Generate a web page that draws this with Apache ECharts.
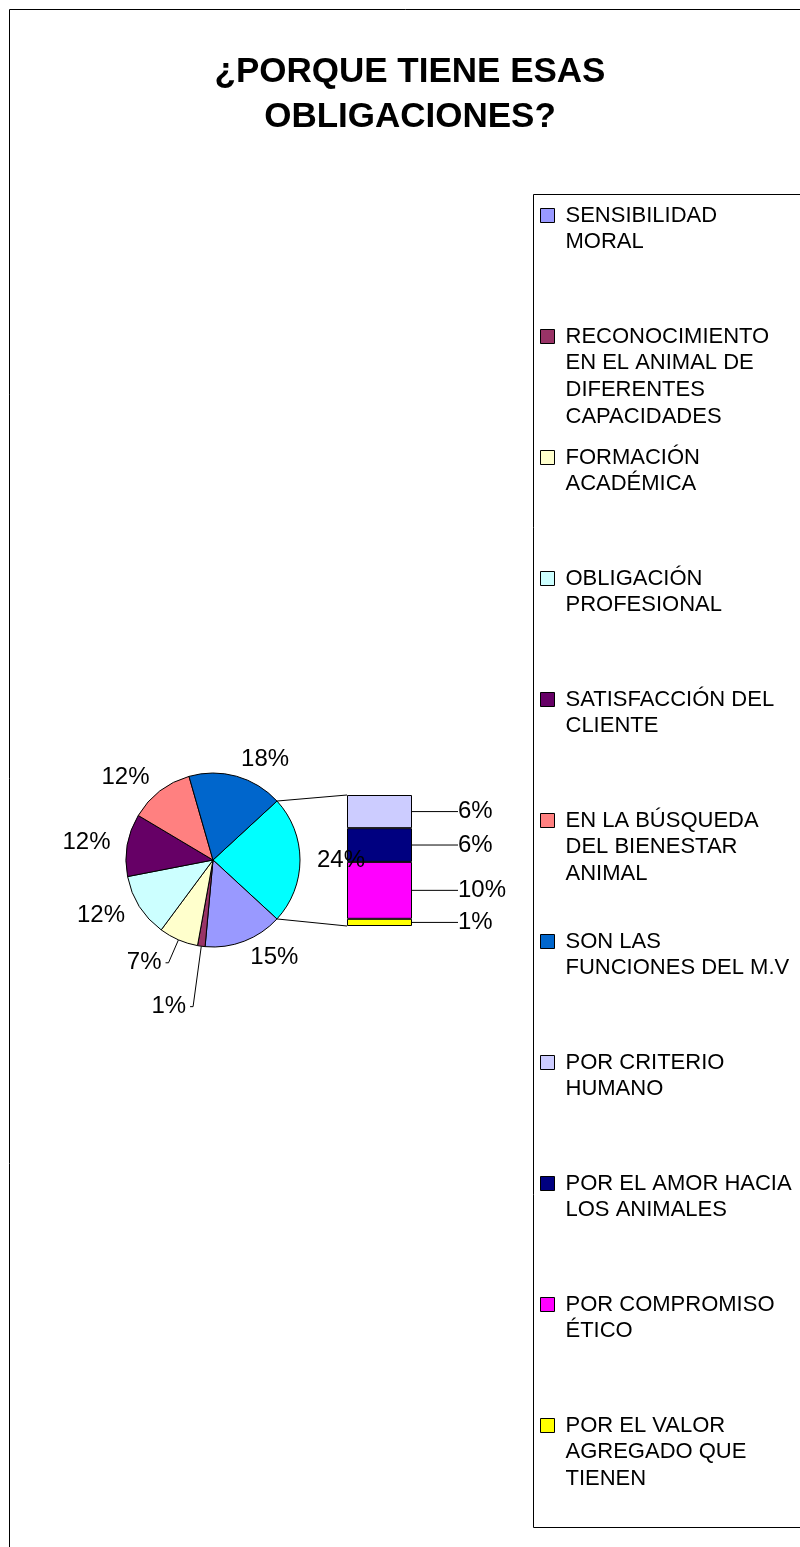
<!DOCTYPE html>
<html><head><meta charset="utf-8">
<script src="https://cdn.jsdelivr.net/npm/echarts@6/dist/echarts.min.js"></script>
<style>html,body{margin:0;padding:0;background:#fff}#c{width:800px;height:1547px}</style>
</head><body><div id="c"></div>
<script>
// ---------- data ----------
const TITLE = '¿PORQUE TIENE ESAS\nOBLIGACIONES?';
const pieNames = ['SENSIBILIDAD MORAL', 'RECONOCIMIENTO EN EL ANIMAL DE DIFERENTES CAPACIDADES', 'FORMACIÓN ACADÉMICA', 'OBLIGACIÓN PROFESIONAL', 'SATISFACCIÓN DEL CLIENTE', 'EN LA BÚSQUEDA DEL BIENESTAR ANIMAL', 'SON LAS FUNCIONES DEL M.V'];
const pieValues = [14.6, 1.4, 7.3, 11.8, 11.6, 12.0, 17.6];
const pieColors = ['#9999FF', '#993366', '#FFFFCC', '#CCFFFF', '#660066', '#FF8080', '#0066CC'];
const barNames = ['POR CRITERIO HUMANO', 'POR EL AMOR HACIA LOS ANIMALES', 'POR COMPROMISO ÉTICO', 'POR EL VALOR AGREGADO QUE TIENEN'];
const barValues = [6.0, 6.1, 10.3, 1.3];
const barColors = ['#CCCCFF', '#000080', '#FF00FF', '#FFFF00'];
const otherName = 'OTROS';
const otherColor = '#00FFFF';
const legendLines = [
  'SENSIBILIDAD\nMORAL',
  'RECONOCIMIENTO\nEN EL ANIMAL DE\nDIFERENTES\nCAPACIDADES',
  'FORMACIÓN\nACADÉMICA',
  'OBLIGACIÓN\nPROFESIONAL',
  'SATISFACCIÓN DEL\nCLIENTE',
  'EN LA BÚSQUEDA\nDEL BIENESTAR\nANIMAL',
  'SON LAS\nFUNCIONES DEL M.V',
  'POR CRITERIO\nHUMANO',
  'POR EL AMOR HACIA\nLOS ANIMALES',
  'POR COMPROMISO\nÉTICO',
  'POR EL VALOR\nAGREGADO QUE\nTIENEN'
];
// slices whose labels sit further out with a leader line
const leaderNames = ['RECONOCIMIENTO EN EL ANIMAL DE DIFERENTES CAPACIDADES', 'FORMACIÓN ACADÉMICA'];
const leaderLen = [61, 25];

// ---------- derived ----------
const FONT = 'Liberation Sans, Arial, sans-serif';
const otherTotal = barValues.reduce((a, b) => a + b, 0);
const total = otherTotal + pieValues.reduce((a, b) => a + b, 0);
const pct = v => Math.round(v / total * 100) + '%';
const startAngle = otherTotal / total * 180;
const CX = 213, CY = 860, R = 87;
const BAR_W = 65;

const labelBase = { color: '#000', fontSize: 24, fontFamily: FONT };

const pieData = [{ name: otherName, value: otherTotal, itemStyle: { color: otherColor } }]
  .concat(pieNames.map((n, i) => ({ name: n, value: pieValues[i], itemStyle: { color: pieColors[i] } })))
  .map(d => {
    const k = leaderNames.indexOf(d.name);
    if (k < 0) return d;
    return Object.assign({}, d, {
      label: { distanceToLabelLine: 4 },
      labelLine: { show: true, length: leaderLen[k], length2: 3 }
    });
  });

const pieSeries = {
  type: 'pie', center: [CX, CY], radius: R, startAngle: startAngle, clockwise: true,
  avoidLabelOverlap: false, silent: true, z: 3,
  itemStyle: { borderColor: '#000', borderWidth: 1 },
  label: Object.assign({ show: true, position: 'outside', formatter: p => pct(p.value), distanceToLabelLine: 0 }, labelBase),
  labelLine: { show: false, length: 17, length2: 0, lineStyle: { color: '#000', width: 1 } },
  data: pieData
};

const barSeries = barNames.map((n, i) => ({
  type: 'bar', name: n, stack: 'otros', data: [barValues[i]], barWidth: '100%',
  itemStyle: { color: barColors[i], borderColor: '#000', borderWidth: 1 },
  label: Object.assign({ show: true, position: 'right', distance: 46, formatter: p => pct(p.value) }, labelBase),
  labelLine: { show: true, lineStyle: { color: '#000', width: 1 } },
  silent: true
})).reverse();

// legend: every entry padded to the same number of lines so that the
// first text line sits beside the icon and entries are evenly spaced
const LH = 26.7, SLOTS = 7, SPACING = 121;
const HALF = (SLOTS - 1) / 2;
const allNames = pieNames.concat(barNames);
const legendText = name => {
  const txt = legendLines[allNames.indexOf(name)];
  const n = txt.split('\n').length;
  return '\n'.repeat(HALF) + txt + '\n'.repeat(SLOTS - HALF - n);
};

const option = {
  backgroundColor: '#fff',
  animation: false,
  title: {
    text: TITLE, left: 410, textAlign: 'center', top: 50, padding: 0,
    textStyle: { fontFamily: FONT, fontWeight: 'bold', fontSize: 35, lineHeight: 45, color: '#000' }
  },
  legend: {
    orient: 'vertical', left: 540, top: 215.5 - SLOTS * LH / 2, padding: 0,
    itemGap: SPACING - SLOTS * LH, itemWidth: 14, itemHeight: 14, icon: 'rect',
    itemStyle: { borderColor: '#000', borderWidth: 1 },
    textStyle: { fontFamily: FONT, fontSize: 22, lineHeight: LH, color: '#000', padding: [0, 0, 0, 6], backgroundColor: 'rgba(255,255,255,0)' },
    formatter: legendText,
    selectedMode: false,
    data: allNames
  },
  grid: { left: 347, top: 795, width: BAR_W, height: 131, containLabel: false },
  xAxis: { type: 'category', data: [otherName], show: false },
  yAxis: { type: 'value', min: 0, max: otherTotal, show: false },
  series: [pieSeries].concat(barSeries)
};

const chart = echarts.init(document.getElementById('c'), null, { renderer: 'canvas' });
chart.setOption(option);

// connector lines from the "other" slice to the bar, and frames
const a = startAngle * Math.PI / 180;
const topPt = chart.convertToPixel({ gridIndex: 0 }, [0, otherTotal]);
const botPt = chart.convertToPixel({ gridIndex: 0 }, [0, 0]);
const barLeft = topPt[0] - BAR_W / 2;
chart.setOption({
  graphic: [
    { type: 'rect', z: -1, shape: { x: 9.5, y: 9.5, width: 1000, height: 2000 }, style: { fill: 'none', stroke: '#000', lineWidth: 1 } },
    { type: 'rect', z: -1, shape: { x: 533.5, y: 194.5, width: 400, height: 1333 }, style: { fill: 'none', stroke: '#000', lineWidth: 1 } },
    { type: 'line', z: 1, shape: { x1: CX + R * Math.cos(a), y1: CY - R * Math.sin(a), x2: barLeft, y2: topPt[1] }, style: { stroke: '#000', lineWidth: 1 } },
    { type: 'line', z: 1, shape: { x1: CX + R * Math.cos(a), y1: CY + R * Math.sin(a), x2: barLeft, y2: botPt[1] }, style: { stroke: '#000', lineWidth: 1 } }
  ]
});
</script>
</body></html>
